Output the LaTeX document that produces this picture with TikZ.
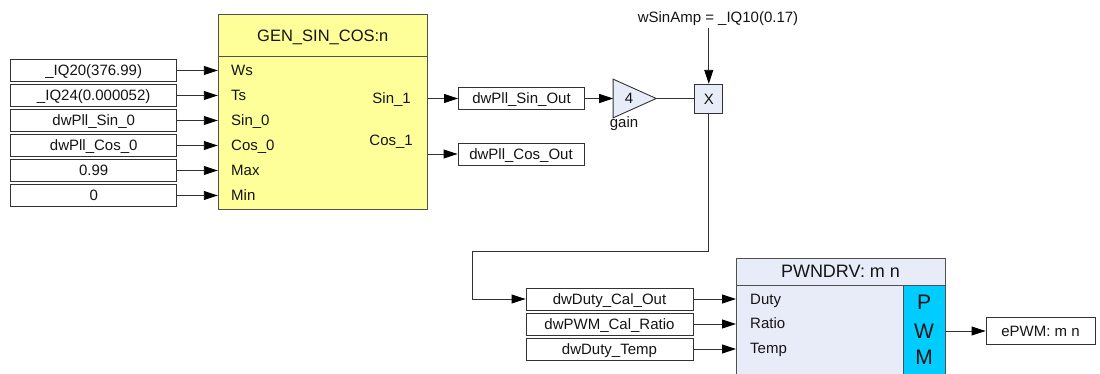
\documentclass[tikz,border=0pt]{standalone}
\usepackage{fontspec}
\setmainfont{Liberation Sans}
\usetikzlibrary{arrows.meta,calc}
\definecolor{genyellow}{RGB}{255,255,153}
\definecolor{lav}{RGB}{232,236,248}
\definecolor{pwmblue}{RGB}{0,204,255}
\definecolor{ink}{RGB}{20,20,20}
\definecolor{edge}{RGB}{50,50,50}
\definecolor{blk}{RGB}{80,80,80}
\begin{document}
\begin{tikzpicture}[x=1pt,y=-1pt,
  every node/.style={font=\fontsize{15}{18}\selectfont, text=ink, inner sep=0pt, text height=10.7pt, text depth=0pt},
  varbox/.style={draw=edge, line width=0.9pt, fill=white, minimum width=166pt, minimum height=22pt},
  port/.style={anchor=west},
  wire/.style={draw=edge, line width=0.9pt},
  arr/.style={wire, -{Triangle[length=14pt,width=9pt,color=black]}},
  block/.style={draw=blk, line width=1pt},
  big/.style={font=\fontsize{21}{24}\selectfont, text height=15pt}]
\useasboundingbox (0,0) rectangle (1100,374);
\clip (0,0) rectangle (1100,374);

% input boxes
\node[varbox] (in1) at (93.7,70.5) {\_IQ20(376.99)};
\node[varbox] (in2) at (93.7,95.5) {\_IQ24(0.000052)};
\node[varbox] (in3) at (93.7,120.5) {dwPll\_Sin\_0};
\node[varbox] (in4) at (93.7,145.5) {dwPll\_Cos\_0};
\node[varbox] (in5) at (93.7,170.5) {0.99};
\node[varbox] (in6) at (93.7,195.5) {0};

% GEN_SIN_COS block
\node[block, fill=genyellow, minimum width=209pt, minimum height=195pt] (gen) at (322.8,112.5) {};
\draw[block] (218.3,56.7) -- (427.3,56.7);
\node[font=\fontsize{16.5}{20}\selectfont, text height=11.8pt] (gentitle) at (322.8,36) {GEN\_SIN\_COS:n};
\node[port] (pws) at (231,70.5) {Ws};
\node[port] (pts) at (231,95.5) {Ts};
\node[port] (psin0) at (231,120.5) {Sin\_0};
\node[port] (pcos0) at (231,145.5) {Cos\_0};
\node[port] (pmax) at (231,170.5) {Max};
\node[port] (pmin) at (231,195.5) {Min};
\node[anchor=east] (psin1) at (411,98.5) {Sin\_1};
\node[anchor=east] (pcos1) at (413,140) {Cos\_1};

\foreach \i in {1,...,6} {\draw[arr] (in\i) -- (in\i -| gen.west);}

% outputs
\node[varbox, minimum width=126pt] (sinout) at (521.5,98.5) {dwPll\_Sin\_Out};
\node[varbox, minimum width=126pt] (cosout) at (521,154) {dwPll\_Cos\_Out};
\draw[arr] (sinout -| gen.east) -- (sinout);
\draw[arr] (cosout -| gen.east) -- (cosout);

% gain
\node[minimum width=42.7pt, minimum height=38.3pt] (gain) at (634.7,98.5) {};
\filldraw[fill=lav, draw=edge, line width=0.9pt] (gain.north west) -- (gain.east) -- (gain.south west) -- cycle;
\node (g4) at (629,98.5) {4};
\node (gainlbl) at (624,122.3) {gain};
\draw[arr] (sinout) -- (gain.west);

% multiplier
\node[draw=edge, fill=lav, line width=0.9pt, minimum width=28pt, minimum height=29pt] (mul) at (708.8,98.8) {X};
\draw[wire] (gain.east) -- (gain.east -| mul.west);
\node (amp) at (718,16.7) {wSinAmp = \_IQ10(0.17)};
\coordinate (ampfoot) at (708.8,28.5);
\draw[arr] (ampfoot) -- (mul.north);

% PWNDRV inputs
\node[varbox, minimum width=167pt] (duty) at (609.5,299) {dwDuty\_Cal\_Out};
\node[varbox, minimum width=167pt] (ratio) at (609.5,324) {dwPWM\_Cal\_Ratio};
\node[varbox, minimum width=167pt] (temp) at (609.5,349) {dwDuty\_Temp};
\coordinate (b1) at (472.3,251.7);
\draw[arr] (mul.south) |- (b1) |- (duty.west);

% PWNDRV block
\node[block, fill=lav, minimum width=209pt, minimum height=135pt, anchor=north west] (pwn) at (736,257.7) {};
\draw[block] (736,285) -- (945,285);
\filldraw[fill=pwmblue, draw=blk, line width=1pt] (903.3,285) rectangle (945,400);
\node[font=\fontsize{18}{21}\selectfont, text height=12.9pt] (pwntitle) at (840.5,271.5) {PWNDRV: m n};
\node[port] (pduty) at (750,299) {Duty};
\node[port] (pratio) at (750,323.5) {Ratio};
\node[port] (ptemp) at (750,348.5) {Temp};
\node[big] (lp) at (924,302) {P};
\node[big] (lw) at (924,330.7) {W};
\node[big] (lm) at (924,356.7) {M};
\draw[arr] (duty) -- (duty -| pwn.west);
\draw[arr] (ratio) -- (ratio -| pwn.west);
\draw[arr] (temp) -- (temp -| pwn.west);

\node[varbox, minimum width=109pt, minimum height=27pt] (epwm) at (1040.5,331) {ePWM: m n};
\draw[arr] (pwn.east |- epwm) -- (epwm);
\end{tikzpicture}
\end{document}
